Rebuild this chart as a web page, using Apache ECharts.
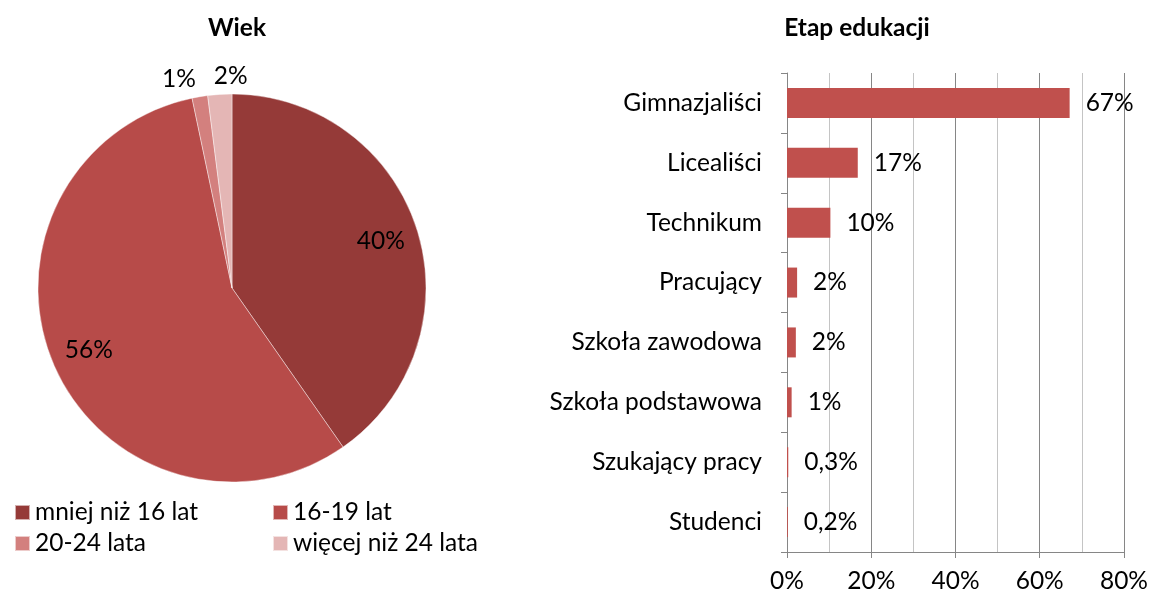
<!DOCTYPE html>
<html>
<head>
<meta charset="utf-8">
<script src="https://cdn.jsdelivr.net/npm/echarts@6/dist/echarts.min.js"></script>
<style>html,body{margin:0;padding:0;background:#fff}#c{width:1151px;height:595px}</style>
</head>
<body>
<div id="c"></div>
<script>
// ---- data ----
const pieNames = ['mniej niż 16 lat', '16-19 lat', '20-24 lata', 'więcej niż 24 lata'];
const pieValues = [40.3, 56.4, 1.3, 2.0];
const barCategories = ['Gimnazjaliści', 'Licealiści', 'Technikum', 'Pracujący', 'Szkoła zawodowa', 'Szkoła podstawowa', 'Szukający pracy', 'Studenci'];
const barValues = [67.1, 16.8, 10.3, 2.4, 2.1, 1.1, 0.3, 0.2];
const xTicks = [0, 20, 40, 60, 80];

const FONT = 'Lato, "Open Sans", sans-serif';
const FS = 24.5;
const pieColors = ['#953a38', '#b74b49', '#d3807e', '#e4b6b5'];
const axisGray = '#868686';

function pct(v) {
  return v < 1 ? v.toFixed(1).replace('.', ',') + '%' : Math.round(v) + '%';
}

const chart = echarts.init(document.getElementById('c'));

const mainPieData = pieNames.map((n, i) => ({ name: n, value: pieValues[i], itemStyle: { color: pieColors[i] } }));
// overlay for labels of big slices (inside, at ~0.8 radius)
const bigLabelData = pieValues.map((v, i) => ({
  name: 'b' + i, value: v,
  label: { show: v >= 10 }
}));
// overlay for labels of small slices (outside, just above the pie)
const smallPads = { 2: [0, 36, 0, 0], 3: [0, 0, 0, 24] };
const smallLabelData = pieValues.map((v, i) => ({
  name: 's' + i, value: v,
  label: { show: v < 10, padding: smallPads[i] || 0 }
}));

const labelText = { fontFamily: FONT, fontSize: FS, color: '#000' };

chart.setOption({
  animation: false,
  title: [
    { text: 'Wiek', left: 237, top: 16, padding: 0, textAlign: 'center',
      textStyle: { fontFamily: FONT, fontSize: FS, fontWeight: 'bold', color: '#000' } },
    { text: 'Etap edukacji', left: 857, top: 16, padding: 0, textAlign: 'center',
      textStyle: { fontFamily: FONT, fontSize: FS, fontWeight: 'bold', color: '#000' } }
  ],
  legend: [
    { orient: 'vertical', left: 14, top: 500, padding: 0, itemWidth: 15, itemHeight: 15, itemGap: 6,
      icon: 'rect', data: [pieNames[0], pieNames[2]],
      textStyle: { fontFamily: FONT, fontSize: FS, color: '#000', lineHeight: 24 } },
    { orient: 'vertical', left: 272, top: 500, padding: 0, itemWidth: 15, itemHeight: 15, itemGap: 6,
      icon: 'rect', data: [pieNames[1], pieNames[3]],
      textStyle: { fontFamily: FONT, fontSize: FS, color: '#000', lineHeight: 24 } }
  ],
  grid: { left: 787, right: 25, top: 73, bottom: 43, containLabel: false },
  xAxis: {
    type: 'value', min: xTicks[0], max: xTicks[xTicks.length - 1], interval: 20,
    axisLine: { show: true, lineStyle: { color: axisGray, width: 1 } },
    axisTick: { show: true, length: 6, lineStyle: { color: axisGray } },
    axisLabel: { margin: 17, formatter: v => v + '%', fontFamily: FONT, fontSize: FS, color: '#000' },
    splitLine: { show: true, lineStyle: { color: axisGray, width: 1 } },
    minorTick: { show: false, splitNumber: 2 },
    minorSplitLine: { show: true, lineStyle: { color: '#c4c4c4', width: 1 } }
  },
  yAxis: {
    type: 'category', inverse: true, data: barCategories,
    axisLine: { show: true, lineStyle: { color: axisGray, width: 1 } },
    axisTick: { show: true, length: 6, lineStyle: { color: axisGray } },
    axisLabel: { margin: 25, fontFamily: FONT, fontSize: FS, color: '#000' },
    splitLine: { show: false }
  },
  series: [
    {
      type: 'bar', data: barValues, barWidth: 30,
      itemStyle: { color: '#c0504d' },
      label: { show: true, position: 'right', distance: 16, formatter: p => pct(p.value), ...labelText },
      silent: true
    },
    {
      type: 'pie', center: [232, 288], radius: [0, 194], startAngle: 90, clockwise: true,
      data: mainPieData,
      itemStyle: { borderColor: 'rgba(255,255,255,0.6)', borderWidth: 0.7 },
      label: { show: false }, labelLine: { show: false }, silent: true
    },
    {
      type: 'pie', center: [232, 288], radius: [0, 306], startAngle: 90, clockwise: true,
      data: bigLabelData, itemStyle: { color: 'rgba(0,0,0,0)' },
      label: { position: 'inside', formatter: p => pct(p.value), ...labelText },
      labelLine: { show: false }, silent: true, z: 5
    },
    {
      type: 'pie', center: [232, 288], radius: [0, 418], startAngle: 90, clockwise: true,
      data: smallLabelData, itemStyle: { color: 'rgba(0,0,0,0)' },
      label: { position: 'inside', formatter: p => pct(p.value), ...labelText },
      labelLine: { show: false }, silent: true, z: 5
    }
  ]
});
</script>
</body>
</html>
